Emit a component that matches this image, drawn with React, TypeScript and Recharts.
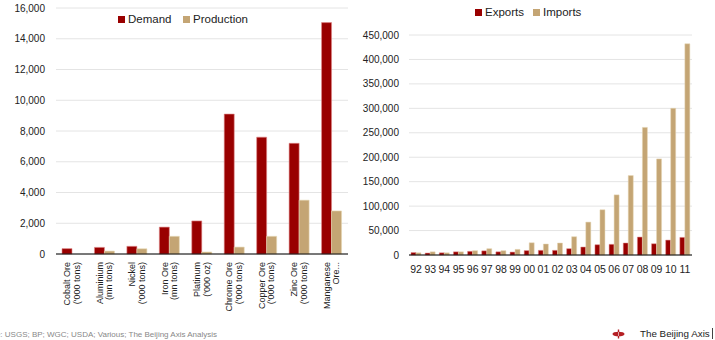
import React from "react";
import { BarChart, Bar, XAxis, YAxis, CartesianGrid } from "recharts";

const mineralNames = ["Cobalt Ore", "Aluminium", "Nickel", "Iron Ore", "Platinum", "Chrome Ore", "Copper Ore", "Zinc Ore", "Manganese"];
const mineralUnits = ["('000 tons)", "(mn tons)", "('000 tons)", "(mn tons)", "('000 oz)", "('000 tons)", "('000 tons)", "('000 tons)", "Ore..."];
const demand = [350, 430, 500, 1750, 2150, 9100, 7600, 7200, 15050];
const production = [0, 190, 340, 1150, 130, 450, 1150, 3500, 2800];
const leftTicks = [0, 2000, 4000, 6000, 8000, 10000, 12000, 14000, 16000];

const years = ["92", "93", "94", "95", "96", "97", "98", "99", "00", "01", "02", "03", "04", "05", "06", "07", "08", "09", "10", "11"];
const exportsVals = [5000, 4000, 4500, 6500, 7500, 8500, 6500, 6000, 9000, 9500, 9500, 12900, 16300, 21000, 21800, 24500, 36700, 23000, 30500, 36000];
const importsVals = [4500, 6500, 4500, 6500, 8800, 12900, 8800, 11500, 25000, 22500, 24500, 37400, 67300, 92500, 123000, 162500, 261000, 196500, 300000, 432000];
const rightTicks = [0, 50000, 100000, 150000, 200000, 250000, 300000, 350000, 400000, 450000];

const RED = "#990000";
const TAN = "#C4A574";
const SANS = "'Liberation Sans', Arial, sans-serif";

const leftData = mineralNames.map((n, i) => ({ name: n, unit: mineralUnits[i], demand: demand[i], production: production[i] }));
const rightData = years.map((y, i) => ({ year: y, exports: exportsVals[i], imports: importsVals[i] }));

const fmt = (v: number) => v.toLocaleString("en-US");

const LeftTick = (props: any) => {
  const { x, y, payload } = props;
  const i = payload.index;
  return (
    <text transform={`translate(${x},${y}) rotate(-90)`} textAnchor="end" fontSize={9} fontFamily={SANS} fill="#222">
      <tspan x={0} y={-2}>{mineralNames[i]}</tspan>
      <tspan x={0} y={7.5}>{mineralUnits[i]}</tspan>
    </text>
  );
};

const LegendItem = ({ color, label, x, y }: { color: string; label: string; x: number; y: number }) => (
  <div style={{ position: "absolute", left: x, top: y, display: "flex", alignItems: "center", fontFamily: SANS, fontSize: 11.5, color: "#222", whiteSpace: "nowrap", lineHeight: "14px" }}>
    <div style={{ width: 7, height: 7, background: color, marginRight: 3 }} />
    <span>{label}</span>
  </div>
);

export default function App() {
  return (
    <div style={{ position: "absolute", left: 0, top: 0, width: 715, height: 340, background: "#fff", overflow: "hidden" }}>
      <div style={{ position: "absolute", left: 0, top: 0 }}>
        <BarChart width={360} height={340} data={leftData} margin={{ top: 8, right: 12, bottom: 56, left: 0 }} barGap={0} barSize={10}>
          <CartesianGrid horizontal vertical={false} stroke="#e4e4e4" />
          <XAxis dataKey="name" axisLine={{ stroke: "#000" }} tickLine={false} tick={<LeftTick />} interval={0} />
          <YAxis width={56} domain={[0, 16000]} ticks={leftTicks} tickFormatter={fmt} axisLine={false} tickLine={false} tickMargin={5} tick={{ fontSize: 10, fontFamily: SANS, fill: "#222" }} />
          <Bar dataKey="demand" fill={RED} stroke="#e08a8a" strokeWidth={0.6} isAnimationActive={false} />
          <Bar dataKey="production" fill={TAN} stroke="#e6d6b4" strokeWidth={0.6} isAnimationActive={false} />
        </BarChart>
      </div>
      <LegendItem color={RED} label="Demand" x={118} y={12} />
      <LegendItem color={TAN} label="Production" x={183} y={12} />

      <div style={{ position: "absolute", left: 360, top: 0 }}>
        <BarChart width={355} height={340} data={rightData} margin={{ top: 35, right: 23, bottom: 55, left: 0 }} barGap={0} barSize={5}>
          <CartesianGrid horizontal vertical={false} stroke="#e4e4e4" />
          <XAxis dataKey="year" axisLine={{ stroke: "#000" }} tickLine={false} interval={0} tickMargin={5} tick={{ fontSize: 10.5, fontFamily: SANS, fill: "#222" }} />
          <YAxis width={49} domain={[0, 450000]} ticks={rightTicks} tickFormatter={fmt} axisLine={false} tickLine={false} tickMargin={4} tick={{ fontSize: 10, fontFamily: SANS, fill: "#222" }} />
          <Bar dataKey="exports" fill={RED} stroke="#e08a8a" strokeWidth={0.5} isAnimationActive={false} />
          <Bar dataKey="imports" fill={TAN} stroke="#e6d6b4" strokeWidth={0.5} isAnimationActive={false} />
        </BarChart>
      </div>
      <LegendItem color={RED} label="Exports" x={475} y={5} />
      <LegendItem color={TAN} label="Imports" x={533} y={5} />

      <svg width={715} height={340} style={{ position: "absolute", left: 0, top: 0, pointerEvents: "none" }}>
        <text x={-25} y={337} fontSize={8} fontFamily={SANS} fill="#888">Source: USGS; BP; WGC; USDA; Various; The Beijing Axis Analysis</text>
        <ellipse cx={618.5} cy={334} rx={6} ry={2.3} fill="#b51f24" />
        <line x1={618.5} y1={329.5} x2={618.5} y2={338.5} stroke="#b51f24" strokeWidth={1.4} />
        <line x1={618.5} y1={332} x2={618.5} y2={336} stroke="#fff" strokeWidth={0.6} />
        <text x={640} y={337} fontSize={9.8} fontFamily={SANS} fill="#222">The Beijing Axis</text>
        <line x1={712.5} y1={328} x2={712.5} y2={339} stroke="#444" strokeWidth={1} />
      </svg>
    </div>
  );
}
